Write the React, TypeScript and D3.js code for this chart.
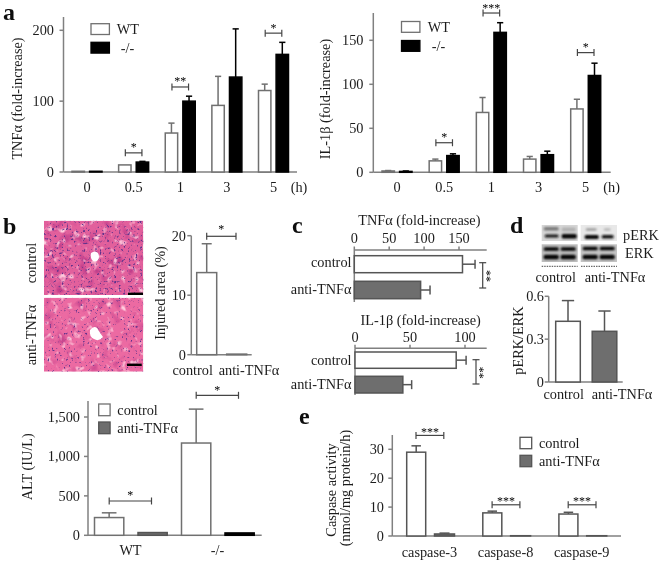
import React from "react";
import * as d3 from "d3";

// ---------- data ----------
const hours = ["0", "0.5", "1", "3", "5"];
const tnfWT = [1, 10, 55, 94, 115];
const tnfWTTop = [1, 10, 69, 135, 124];
const tnfKO = [1, 14, 100, 134, 166];
const tnfKOTop = [1, 15, 107, 202, 183];
const tnfSig = [
  { i: 1, level: 27, stars: "*" },
  { i: 2, level: 120, stars: "**" },
  { i: 4, level: 196, stars: "*" },
];
const ilWT = [1.5, 13, 68, 15, 72];
const ilWTTop = [2, 15, 85, 18, 83];
const ilKO = [1, 19, 159, 20, 110];
const ilKOTop = [1.5, 21, 170, 24, 124];
const ilSig = [
  { i: 1, level: 33.6, stars: "*" },
  { i: 2, level: 181, stars: "***" },
  { i: 4, level: 136, stars: "*" },
];

const treatments = ["control", "anti-TNFα"];
const injured = [13.8, 0.1];
const injuredTop = [18.65, 0.1];

const altGroups = ["WT", "-/-"];
const altControl = [225, 1170];
const altControlTop = [285, 1600];
const altAnti = [35, 30];
const altSigLevels = [435, 1775];

const cTnf = [155, 95];
const cTnfTop = [173, 108.5];
const cIl = [92, 43.5];
const cIlTop = [101, 51.5];

const perk = [0.425, 0.355];
const perkTop = [0.57, 0.497];

const caspases = ["caspase-3", "caspase-8", "caspase-9"];
const caspControl = [29, 8, 7.6];
const caspControlTop = [31.2, 8.6, 8.2];
const caspAnti = [0.7, 0.1, 0.1];
const caspAntiTop = [1, 0.1, 0.1];
const caspSigLevels = [34.8, 10.8, 10.8];

// ---------- style ----------
const FONT = "'Liberation Serif', serif";
const AX = "#808080";
const GREY = "#6e6e6e";
const INK = "#1c1c1c";
const SW = 1.5;
const FS = 14.3;

type S = (v: number) => number;

const T = (p: any) => (
  <text fontFamily={FONT} fontSize={FS} fill={INK} dominantBaseline="central" {...p} />
);

function VLabel({ x, y, size = FS, children }: any) {
  return (
    <text
      transform={`translate(${x},${y}) rotate(-90)`}
      fontFamily={FONT}
      fontSize={size}
      fill={INK}
      textAnchor="middle"
      dominantBaseline="central"
    >
      {children}
    </text>
  );
}

function YAxis({ x, y, top, right, ticks, fmt, labelX }: any) {
  return (
    <g>
      <line x1={x} x2={x} y1={top} y2={y(0)} stroke={AX} strokeWidth={SW} />
      <line x1={x} x2={right} y1={y(0)} y2={y(0)} stroke={AX} strokeWidth={SW} />
      {ticks.map((t: number) => (
        <g key={t}>
          <line x1={x - 4} x2={x} y1={y(t)} y2={y(t)} stroke={AX} strokeWidth={SW} />
          <T x={labelX ?? x - 8} y={y(t)} textAnchor="end">
            {fmt ? fmt(t) : t}
          </T>
        </g>
      ))}
    </g>
  );
}

function VBar({ x0, x1, y, v, top, fill, stroke = "#707070" }: any) {
  const mid = (x0 + x1) / 2;
  return (
    <g>
      {top > v && (
        <g stroke={stroke} strokeWidth={SW}>
          <line x1={mid} x2={mid} y1={y(v)} y2={y(top)} />
          <line x1={mid - (x1 - x0) / 4} x2={mid + (x1 - x0) / 4} y1={y(top)} y2={y(top)} />
        </g>
      )}
      <rect x={x0} width={x1 - x0} y={y(v)} height={Math.max(y(0) - y(v), 0)} fill={fill} stroke={stroke} strokeWidth={SW} />
    </g>
  );
}

function Bracket({ x0, x1, y, stars, starY }: any) {
  return (
    <g>
      <g stroke="#444" strokeWidth={1.2}>
        <line x1={x0} x2={x1} y1={y} y2={y} />
        <line x1={x0} x2={x0} y1={y - 3.5} y2={y + 3.5} />
        <line x1={x1} x2={x1} y1={y - 3.5} y2={y + 3.5} />
      </g>
      <T x={(x0 + x1) / 2} y={starY} fontSize={12} fill="#000" textAnchor="middle">
        {stars}
      </T>
    </g>
  );
}

function LegendBox({ x, y, w, h, fill, stroke = "#707070" }: any) {
  return <rect x={x} y={y} width={w} height={h} fill={fill} stroke={stroke} strokeWidth={1.3} />;
}

function PanelA({ axisX, right, rangeX, y, ticks, wt, wtTop, ko, koTop, sig, labelX, hX, legend }: any) {
  const gx = d3.scalePoint<string>().domain(hours).range(rangeX);
  const off = 8.8;
  const hw = 6.2;
  return (
    <g>
      <YAxis x={axisX} y={y} top={legend.top} right={right} ticks={ticks} labelX={labelX} />
      {hours.map((h, i) => {
        const c = gx(h) as number;
        return (
          <g key={h}>
            <VBar x0={c - off - hw} x1={c - off + hw} y={y} v={wt[i]} top={wtTop[i]} fill="#fff" />
            <VBar x0={c + off - hw} x1={c + off + hw} y={y} v={ko[i]} top={koTop[i]} fill="#000" stroke="#000" />
            <T x={c} y={186.7} textAnchor="middle">
              {h}
            </T>
          </g>
        );
      })}
      {sig.map((s: any) => {
        const c = gx(hours[s.i]) as number;
        return <Bracket key={s.i} x0={c - 8.3} x1={c + 8.3} y={y(s.level)} stars={s.stars} starY={y(s.level) - 5.5} />;
      })}
      <T x={hX} y={186.7} textAnchor="middle">
        (h)
      </T>
      <LegendBox x={legend.x} y={legend.y1} w={legend.w} h={10.8} fill="#fff" />
      <LegendBox x={legend.x} y={legend.y2} w={legend.w} h={10.8} fill="#000" stroke="#000" />
      <T x={legend.tx} y={legend.y1 + 5.4}>
        WT
      </T>
      <T x={legend.tx + 4} y={legend.y2 + 5.4}>
        -/-
      </T>
    </g>
  );
}

function Histology({ id, x, y, w, h, lumen, bar, freq, seed, veins }: any) {
  return (
    <g>
      <defs>
        <clipPath id={`${id}-clip`}>
          <rect x={x} y={y} width={w} height={h} />
        </clipPath>
        <filter id={`${id}-dots`} x="0" y="0" width="1" height="1" colorInterpolationFilters="sRGB">
          <feTurbulence type="fractalNoise" baseFrequency={freq} numOctaves={2} seed={seed} />
          <feColorMatrix
            type="matrix"
            values={`0 0 0 0 0.38  0 0 0 0 0.2  0 0 0 0 0.55  ${veins.dot} 0 0 0 ${veins.dotOff}`}
          />
        </filter>
        <filter id={`${id}-veins`} x="0" y="0" width="1" height="1" colorInterpolationFilters="sRGB">
          <feTurbulence type="fractalNoise" baseFrequency={0.15} numOctaves={2} seed={seed + 3} />
          <feColorMatrix
            type="matrix"
            values={`0 0 0 0 1  0 0 0 0 0.8  0 0 0 0 0.87  0 ${veins.vein} 0 0 ${veins.veinOff}`}
          />
        </filter>
        <filter id={`${id}-mott`} x="0" y="0" width="1" height="1" colorInterpolationFilters="sRGB">
          <feTurbulence type="fractalNoise" baseFrequency={0.09} numOctaves={2} seed={seed + 7} />
          <feColorMatrix
            type="matrix"
            values={`0 0 0 0 0.72  0 0 0 0 0.2  0 0 0 0 0.52  0 0 ${veins.mott} 0 ${veins.mottOff}`}
          />
        </filter>
      </defs>
      <g clipPath={`url(#${id}-clip)`}>
        <rect x={x} y={y} width={w} height={h} fill={veins.base} />
        <rect x={x} y={y} width={w} height={h} filter={`url(#${id}-mott)`} />
        <rect x={x} y={y} width={w} height={h} filter={`url(#${id}-veins)`} />
        <rect x={x} y={y} width={w} height={h} filter={`url(#${id}-dots)`} />
        <path d={lumen} fill="#fff" />
        <rect x={bar.x} y={bar.y} width={bar.w} height={2.4} fill="#000" />
      </g>
    </g>
  );
}

function Blot({ id, x, y, w, h, bg, bands }: any) {
  return (
    <g>
      <rect x={x} y={y} width={w} height={h} fill={bg} />
      {bands.map((b: any, i: number) => (
        <rect key={i} x={x + b.x} y={y + b.y} width={b.w} height={b.h} rx={1.5} fill={b.c} filter={`url(#${id})`} />
      ))}
    </g>
  );
}

export default function App() {
  // a
  const y1 = d3.scaleLinear().domain([0, 200]).range([172, 30.3]);
  const y2 = d3.scaleLinear().domain([0, 150]).range([172.3, 40.3]);
  // b injured
  const yInj = d3.scaleLinear().domain([0, 20]).range([354.7, 235.7]);
  const xInj = d3.scaleBand<string>().domain(treatments).range([191.7, 251.7]).paddingInner(1 / 3).paddingOuter(1 / 6);
  // b ALT
  const yAlt = d3.scaleLinear().domain([0, 1500]).range([535.3, 417]);
  const xAlt = d3.scalePoint<string>().domain(altGroups).range([130.5, 217.5]);
  // c
  const xC1 = d3.scaleLinear().domain([0, 150]).range([354.3, 459]);
  const xC2 = d3.scaleLinear().domain([0, 100]).range([355, 465]);
  // d
  const yD = d3.scaleLinear().domain([0, 0.6]).range([382, 296.3]);
  const xD = d3.scalePoint<string>().domain(treatments).range([568, 604.5]);
  // e
  const yE = d3.scaleLinear().domain([0, 30]).range([536, 449.3]);
  const xE = d3.scalePoint<string>().domain(caspases).range([430.5, 582.7]);

  const hBar = (x0: number, v: number, top: number, xs: S, y0: number, y1_: number, fill: string) => (
    <g>
      <line x1={xs(v)} x2={xs(top)} y1={(y0 + y1_) / 2} y2={(y0 + y1_) / 2} stroke="#555" strokeWidth={SW} />
      <line x1={xs(top)} x2={xs(top)} y1={(y0 + y1_) / 2 - 4.5} y2={(y0 + y1_) / 2 + 4.5} stroke="#555" strokeWidth={SW} />
      <rect x={x0} y={y0} width={xs(v) - x0} height={y1_ - y0} fill={fill} stroke="#555" strokeWidth={SW} />
    </g>
  );

  const vBracket = (x: number, y0: number, y1_: number, sx: number, sy: number) => (
    <g>
      <g stroke="#444" strokeWidth={1.2}>
        <line x1={x} x2={x} y1={y0} y2={y1_} />
        <line x1={x - 3.5} x2={x + 3.5} y1={y0} y2={y0} />
        <line x1={x - 3.5} x2={x + 3.5} y1={y1_} y2={y1_} />
      </g>
      <text transform={`translate(${sx},${sy}) rotate(-90)`} fontFamily={FONT} fontSize={12} fill="#000" textAnchor="middle" dominantBaseline="central">
        **
      </text>
    </g>
  );

  const topTicks = (xs: S, ticks: number[], ay: number, ly: number) =>
    ticks.map((t) => (
      <g key={t}>
        <line x1={xs(t)} x2={xs(t)} y1={ay - 3.5} y2={ay} stroke={AX} strokeWidth={SW} />
        <T x={xs(t)} y={ly} textAnchor="middle">
          {t}
        </T>
      </g>
    ));

  const lumen1 = "M91,253 Q95,250 98,253 Q100,257 98,260 Q95,263 92,260 Q90,257 91,253Z";
  const lumen2 = "M90,330 Q94,325 97,328 Q100,333 103,337 Q99,342 94,339 Q89,337 90,330Z";

  return (
    <svg
      width={660}
      height={561}
      viewBox="0 0 660 561"
      style={{ position: "absolute", left: 0, top: 0, background: "#fff" }}
    >
      <defs>
        <filter id="blot" x="-30%" y="-80%" width="160%" height="260%">
          <feGaussianBlur stdDeviation="0.9" />
        </filter>
        <filter id="soft" x="0" y="0" width="660" height="561" filterUnits="userSpaceOnUse">
          <feGaussianBlur stdDeviation="0.35" />
        </filter>
      </defs>

      <g filter="url(#soft)">
      {/* panel letters */}
      {[
        ["a", 3, 20],
        ["b", 3, 234],
        ["c", 292, 233],
        ["d", 510, 233],
        ["e", 299, 424],
      ].map(([s, x, y]: any) => (
        <text key={s} x={x} y={y} fontFamily={FONT} fontSize={24} fontWeight="bold" fill="#111">
          {s}
        </text>
      ))}

      {/* a */}
      <VLabel x={16.7} y={98.5}>TNFα (fold-increase)</VLabel>
      <PanelA
        axisX={63.5}
        right={297}
        rangeX={[87, 273.5]}
        y={y1}
        ticks={[0, 100, 200]}
        wt={tnfWT}
        wtTop={tnfWTTop}
        ko={tnfKO}
        koTop={tnfKOTop}
        sig={tnfSig}
        labelX={54}
        hX={299}
        legend={{ top: 17, x: 91, w: 18.4, y1: 23.7, y2: 42.3, tx: 116.7 }}
      />
      <VLabel x={325} y={99}>IL-1β (fold-increase)</VLabel>
      <PanelA
        axisX={373.3}
        right={610.7}
        rangeX={[397, 585.7]}
        y={y2}
        ticks={[0, 50, 100, 150]}
        wt={ilWT}
        wtTop={ilWTTop}
        ko={ilKO}
        koTop={ilKOTop}
        sig={ilSig}
        labelX={363.5}
        hX={611.7}
        legend={{ top: 13, x: 401.5, w: 18.4, y1: 21.5, y2: 40.5, tx: 427.7 }}
      />

      {/* b histology */}
      <VLabel x={31} y={263}>control</VLabel>
      <VLabel x={31} y={335}>anti-TNFα</VLabel>
      <Histology
        id="h1"
        x={44}
        y={220.7}
        w={99.3}
        h={74.3}
        lumen={lumen1}
        bar={{ x: 128, y: 292.6, w: 15 }}
        freq={0.42}
        seed={4}
        veins={{ base: "#e2609c", dot: 6, dotOff: -3.6, vein: 4, veinOff: -2.3, mott: 3, mottOff: -1.6 }}
      />
      <Histology
        id="h2"
        x={44}
        y={297.7}
        w={99.3}
        h={74}
        lumen={lumen2}
        bar={{ x: 127, y: 363.6, w: 14.7 }}
        freq={0.42}
        seed={9}
        veins={{ base: "#ec6ba2", dot: 6, dotOff: -3.8, vein: 4, veinOff: -2.3, mott: 2, mottOff: -1.1 }}
      />

      {/* b injured area */}
      <VLabel x={160} y={293}>Injured area (%)</VLabel>
      <YAxis x={191.3} y={yInj} top={235.7} right={251.7} ticks={[0, 10, 20]} labelX={186} />
      {treatments.map((t, i) => (
        <VBar key={t} x0={xInj(t)} x1={(xInj(t) as number) + xInj.bandwidth()} y={yInj} v={injured[i]} top={injuredTop[i]} fill="#fff" />
      ))}
      <T x={192.7} y={369.5} textAnchor="middle">control</T>
      <T x={249} y={369.5} textAnchor="middle">anti-TNFα</T>
      <Bracket x0={206.7} x1={236} y={236.3} stars="*" starY={228.5} />

      {/* b ALT */}
      <VLabel x={26.7} y={466.7}>ALT (IU/L)</VLabel>
      <YAxis x={88} y={yAlt} top={401} right={261.7} ticks={[0, 500, 1000, 1500]} fmt={d3.format(",")} labelX={80} />
      {altGroups.map((g, i) => {
        const c = xAlt(g) as number;
        return (
          <g key={g}>
            <VBar x0={c - 36} x1={c - 6.7} y={yAlt} v={altControl[i]} top={altControlTop[i]} fill="#fff" />
            <VBar
              x0={c + 7.5}
              x1={c + 36.7}
              y={yAlt}
              v={altAnti[i]}
              top={altAnti[i]}
              fill={i === 0 ? GREY : "#000"}
              stroke={i === 0 ? "#555" : "#000"}
            />
            <T x={c} y={550} textAnchor="middle">{g}</T>
            <Bracket x0={c - 21.3} x1={c + 21} y={yAlt(altSigLevels[i])} stars="*" starY={yAlt(altSigLevels[i]) - 5.5} />
          </g>
        );
      })}
      <LegendBox x={98.7} y={404} w={11.4} h={11.7} fill="#fff" />
      <LegendBox x={98.7} y={422} w={11.4} h={11.7} fill={GREY} stroke="#555" />
      <T x={117.3} y={409.8}>control</T>
      <T x={117.3} y={428}>anti-TNFα</T>

      {/* c */}
      <T x={419.3} y={220} textAnchor="middle">TNFα (fold-increase)</T>
      <line x1={354.3} x2={486.7} y1={250} y2={250} stroke={AX} strokeWidth={SW} />
      <line x1={354.3} x2={354.3} y1={250} y2={302} stroke={AX} strokeWidth={SW} />
      {topTicks(xC1, [0, 50, 100, 150], 250, 237.7)}
      {hBar(354.3, cTnf[0], cTnfTop[0], xC1, 255.7, 272.7, "#fff")}
      {hBar(354.3, cTnf[1], cTnfTop[1], xC1, 281.3, 298.7, GREY)}
      {treatments.map((t, i) => (
        <T key={t} x={351.5} y={i === 0 ? 262.3 : 289} textAnchor="end">{t}</T>
      ))}
      {vBracket(482.7, 262.7, 288, 490, 276)}

      <T x={420.7} y={320.3} textAnchor="middle">IL-1β (fold-increase)</T>
      <line x1={355} x2={486.7} y1={348.3} y2={348.3} stroke={AX} strokeWidth={SW} />
      <line x1={355} x2={355} y1={348.3} y2={395} stroke={AX} strokeWidth={SW} />
      {topTicks(xC2, [0, 50, 100], 348.3, 336.8)}
      {hBar(355, cIl[0], cIlTop[0], xC2, 352, 368.3, "#fff")}
      {hBar(355, cIl[1], cIlTop[1], xC2, 376.3, 393, GREY)}
      {treatments.map((t, i) => (
        <T key={t} x={351.5} y={i === 0 ? 360 : 383.7} textAnchor="end">{t}</T>
      ))}
      {vBracket(476, 359.7, 384, 482.7, 372.7)}

      {/* d blots */}
      <Blot
        id="blot"
        x={541.7}
        y={225}
        w={36}
        h={16}
        bg="#d6d6d6"
        bands={[
          { x: 2, y: 2, w: 15, h: 3.5, c: "#777" },
          { x: 20, y: 2.5, w: 14, h: 4, c: "#b0b0b0" },
          { x: 3, y: 9.5, w: 14, h: 3, c: "#111" },
          { x: 20, y: 9, w: 15, h: 4.5, c: "#000" },
        ]}
      />
      <Blot
        id="blot"
        x={580.7}
        y={225}
        w={36.3}
        h={16}
        bg="#e8e8e8"
        bands={[
          { x: 5, y: 3.5, w: 11, h: 2, c: "#888" },
          { x: 23, y: 3.5, w: 7, h: 2, c: "#aaa" },
          { x: 4, y: 10, w: 14, h: 4, c: "#000" },
          { x: 21, y: 10, w: 12, h: 3.5, c: "#111" },
        ]}
      />
      <Blot
        id="blot"
        x={541.7}
        y={244.3}
        w={36}
        h={17.7}
        bg="#bdbdbd"
        bands={[
          { x: 2, y: 3, w: 15, h: 3.5, c: "#000" },
          { x: 19, y: 3, w: 15, h: 3.5, c: "#000" },
          { x: 2, y: 10.5, w: 15, h: 4.5, c: "#000" },
          { x: 19, y: 10.5, w: 15, h: 4.5, c: "#000" },
        ]}
      />
      <Blot
        id="blot"
        x={580.7}
        y={244.3}
        w={36.3}
        h={17.7}
        bg="#c4c4c4"
        bands={[
          { x: 2, y: 2.5, w: 15, h: 3.5, c: "#000" },
          { x: 19, y: 2.5, w: 15, h: 3.5, c: "#000" },
          { x: 2, y: 10.5, w: 15, h: 4.5, c: "#000" },
          { x: 19, y: 10.5, w: 15, h: 4.5, c: "#000" },
        ]}
      />
      <line x1={541.7} x2={577.7} y1={266.3} y2={266.3} stroke="#444" strokeWidth={1} strokeDasharray="1.5 1" />
      <line x1={581} x2={617} y1={266.3} y2={266.3} stroke="#444" strokeWidth={1} strokeDasharray="1.5 1" />
      <T x={555.7} y={277} textAnchor="middle">control</T>
      <T x={615} y={277} textAnchor="middle">anti-TNFα</T>
      <T x={623} y={235}>pERK</T>
      <T x={625} y={253}>ERK</T>

      {/* d chart */}
      <VLabel x={518} y={340.6}>pERK/ERK</VLabel>
      <YAxis x={548.7} y={yD} top={296.3} right={622.7} ticks={[0, 0.3, 0.6]} labelX={544} />
      {treatments.map((t, i) => {
        const c = xD(t) as number;
        return (
          <g key={t}>
            <VBar x0={c - 12.3} x1={c + 12.3} y={yD} v={perk[i]} top={perkTop[i]} fill={i === 0 ? "#fff" : GREY} stroke="#555" />
            <T x={i === 0 ? 563.7 : 622} y={394} textAnchor="middle">{t}</T>
          </g>
        );
      })}

      {/* e */}
      <VLabel x={331} y={490}>Caspase activity</VLabel>
      <VLabel x={345} y={488}>(nmol/mg protein/h)</VLabel>
      <YAxis x={392.3} y={yE} top={435} right={621} ticks={[0, 10, 20, 30]} labelX={384} />
      {caspases.map((g, i) => {
        const c = xE(g) as number;
        return (
          <g key={g}>
            <VBar x0={c - 23.8} x1={c - 4.8} y={yE} v={caspControl[i]} top={caspControlTop[i]} fill="#fff" stroke="#555" />
            <VBar x0={c + 4} x1={c + 24} y={yE} v={caspAnti[i]} top={caspAntiTop[i]} fill={GREY} stroke="#555" />
            <T x={c - 1} y={552.3} textAnchor="middle">{g}</T>
            <Bracket x0={c - 14.5} x1={c + 13.3} y={yE(caspSigLevels[i])} stars="***" starY={yE(caspSigLevels[i]) - 3.5} />
          </g>
        );
      })}
      <LegendBox x={520} y={437.3} w={11.7} h={11.4} fill="#fff" stroke="#555" />
      <LegendBox x={520} y={455.3} w={11.7} h={11.4} fill={GREY} stroke="#555" />
      <T x={539} y={442.8}>control</T>
      <T x={539} y={461}>anti-TNFα</T>
      </g>
    </svg>
  );
}
